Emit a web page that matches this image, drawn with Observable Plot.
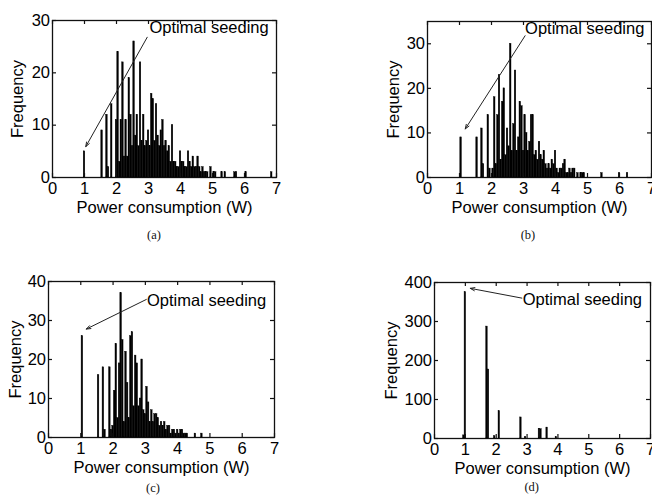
<!DOCTYPE html>
<html><head><meta charset="utf-8">
<script src="https://cdn.jsdelivr.net/npm/d3@7"></script>
<script src="https://cdn.jsdelivr.net/npm/@observablehq/plot@0.6"></script>
<style>
html,body{margin:0;background:#fff;overflow:hidden;}
#root{position:relative;width:652px;height:504px;}
.panel{position:absolute;}
.panel svg{max-width:none !important;display:block;}
.cap{position:absolute;font-family:"Liberation Serif","Times New Roman",serif;font-size:12.5px;color:#111;transform:translate(-50%,-50%);white-space:nowrap;}
</style></head><body><div id="root"></div>
<script>
// ---------- data ----------
const xDomain = [0, 7];
const xTicks = [0, 1, 2, 3, 4, 5, 6, 7];
const binWidth = 0.05;

// (a)
const powerA = [1.00,1.55,1.70,1.75,1.85,2.00,2.05,2.10,2.15,2.20,2.25,2.30,2.35,2.40,2.45,2.50,2.55,2.60,2.65,2.70,2.75,2.80,2.85,2.90,2.95,3.00,3.05,3.10,3.15,3.20,3.25,3.30,3.35,3.40,3.45,3.50,3.55,3.60,3.65,3.70,3.75,3.80,3.85,3.90,3.95,4.00,4.05,4.10,4.15,4.20,4.25,4.30,4.35,4.40,4.45,4.50,4.55,4.60,4.65,4.70,4.75,4.80,4.85,4.95,5.05,5.10,5.30,5.40,5.70,5.75,6.05,6.85];
const countA = [5,9,12,2,14,11,24,3,11,22,4,11,4,19,12,6,26,8,12,6,22,7,12,6,7,9,6,16,15,7,14,8,6,9,11,6,7,5,6,3,10,3,3,2,2,5,3,3,2,2,5,3,2,4,2,2,4,2,1,2,1,1,1,2,1,1,1,1,1,1,1,1];
const yDomainA = [0, 30];
const yTicksA = [0, 10, 20, 30];
const labelA = [3.03, 28.7];
const arrowA = [2.96, 26.8, 1.04, 5.9];

// (b)
const powerB = [1.05,1.55,1.70,1.75,1.90,1.95,2.05,2.10,2.15,2.20,2.25,2.30,2.35,2.40,2.45,2.50,2.55,2.60,2.65,2.70,2.75,2.80,2.85,2.90,2.95,3.00,3.05,3.10,3.15,3.20,3.25,3.30,3.35,3.40,3.45,3.50,3.55,3.60,3.65,3.70,3.75,3.80,3.85,3.90,3.95,4.00,4.05,4.10,4.15,4.20,4.25,4.30,4.35,4.40,4.45,4.50,4.55,4.60,4.70,4.80,4.85,4.90,5.45,6.00,6.25];
const countB = [9,9,11,3,14,2,2,18,3,14,23,4,17,20,5,11,7,30,6,12,24,6,9,17,16,6,14,10,6,8,14,14,5,6,4,8,5,4,6,3,2,3,2,4,3,6,2,1,2,2,3,4,1,1,2,1,2,2,1,1,1,1,1,1,1];
const yDomainB = [0, 35];
const yTicksB = [0, 10, 20, 30];
const labelB = [3.05, 33.3];
const arrowB = [3.05, 31.8, 1.18, 10.9];

// (c)
const powerC = [1.05,1.55,1.70,1.75,1.90,1.95,2.00,2.05,2.10,2.15,2.20,2.25,2.30,2.35,2.40,2.45,2.50,2.55,2.60,2.65,2.70,2.75,2.80,2.85,2.90,2.95,3.00,3.05,3.10,3.15,3.20,3.25,3.30,3.35,3.40,3.45,3.50,3.55,3.60,3.65,3.70,3.75,3.80,3.85,3.90,3.95,4.00,4.05,4.10,4.15,4.20,4.25,4.30,4.55,4.75];
const countC = [26,16,18,2,18,2,3,12,24,5,19,37,25,4,22,14,5,26,27,8,21,19,8,10,20,7,6,13,9,4,7,4,6,6,5,3,4,3,4,2,3,3,1,2,2,1,2,1,2,2,1,1,1,1,1];
const yDomainC = [0, 40];
const yTicksC = [0, 10, 20, 30, 40];
const labelC = [3.05, 35.2];
const arrowC = [3.03, 35.4, 1.17, 27.8];

// (d)
const powerD = [0.95,1.00,1.70,1.75,1.95,2.10,2.80,2.95,3.40,3.45,3.65,3.95];
const countD = [8,375,287,177,6,70,54,4,25,24,28,4];
const yDomainD = [0, 400];
const yTicksD = [0, 100, 200, 300, 400];
const labelD = [2.86, 356];
const arrowD = [2.83, 360, 1.16, 385];

const captions = ["(a)", "(b)", "(c)", "(d)"];

// ---------- layout ----------
const FONT = '"Liberation Sans", Arial, Helvetica, sans-serif';
const ML = 60, MR = 15, MT = 12, MB = 50;
const TICK = 4;   // inward tick length, px
const panels = [
  {power: powerA, count: countA, yDomain: yDomainA, yTicks: yTicksA, label: labelA, arrow: arrowA,
   L: 52, R: 276, T: 20, B: 177, yLab: 34.7, cap: [154, 235]},
  {power: powerB, count: countB, yDomain: yDomainB, yTicks: yTicksB, label: labelB, arrow: arrowB,
   L: 427, R: 651, T: 21, B: 177, yLab: 33.7, cap: [528, 235]},
  {power: powerC, count: countC, yDomain: yDomainC, yTicks: yTicksC, label: labelC, arrow: arrowC,
   L: 48, R: 274, T: 281, B: 437, yLab: 33, cap: [153, 488]},
  {power: powerD, count: countD, yDomain: yDomainD, yTicks: yTicksD, label: labelD, arrow: arrowD,
   L: 434, R: 650, T: 282, B: 438, yLab: 42.3, cap: [531.7, 487]}
];

const root = document.getElementById("root");
panels.forEach((cfg, k) => {
  const bins = cfg.power.map((p, i) => ({p, n: cfg.count[i]}));
  const fw = cfg.R - cfg.L, fh = cfg.B - cfg.T;
  const [xa, xb] = xDomain, [ya, yb] = cfg.yDomain;
  const tx = (xb - xa) * TICK / fw, ty = (yb - ya) * TICK / fh;  // tick length in data units
  const plot = Plot.plot({
    width: fw + ML + MR,
    height: fh + MT + MB,
    marginLeft: ML, marginRight: MR, marginTop: MT, marginBottom: MB,
    x: {domain: xDomain},
    y: {domain: cfg.yDomain},
    style: {fontFamily: FONT, fontSize: "16.5px", color: "#000", background: "transparent", overflow: "visible", maxWidth: "none"},
    marks: [
      Plot.frame({stroke: "#111", strokeWidth: 1.3}),
      Plot.rectY(bins, {x1: d => d.p - binWidth / 2, x2: d => d.p + binWidth / 2, y: "n", fill: "#000", stroke: "#000", strokeWidth: 0.4}),
      Plot.ruleX(xTicks, {x: d => d, y1: ya, y2: ya + ty, stroke: "#111", strokeWidth: 1.2}),
      Plot.ruleX(xTicks, {x: d => d, y1: yb - ty, y2: yb, stroke: "#111", strokeWidth: 1.2}),
      Plot.ruleY(cfg.yTicks, {y: d => d, x1: xa, x2: xa + tx, stroke: "#111", strokeWidth: 1.2}),
      Plot.ruleY(cfg.yTicks, {y: d => d, x1: xb - tx, x2: xb, stroke: "#111", strokeWidth: 1.2}),
      Plot.axisX({ticks: xTicks, anchor: "bottom", tickSize: 0, tickPadding: 4.3, tickFormat: d => String(d), label: null}),
      Plot.axisY({ticks: cfg.yTicks, anchor: "left", tickSize: 0, tickPadding: 2.5, tickFormat: d => String(d), label: null}),
      Plot.text(["Frequency"], {text: d => d, frameAnchor: "left", dx: -cfg.yLab, rotate: -90, textAnchor: "middle", lineAnchor: "middle"}),
      Plot.text(["Power consumption (W)"], {text: d => d, frameAnchor: "bottom", dy: 30, textAnchor: "middle", lineAnchor: "middle"}),
      Plot.arrow([cfg.arrow], {x1: d => d[0], y1: d => d[1], x2: d => d[2], y2: d => d[3], stroke: "#222", strokeWidth: 1, headLength: 7, headAngle: 40}),
      Plot.text([cfg.label], {x: d => d[0], y: d => d[1], text: () => "Optimal seeding", textAnchor: "start", lineAnchor: "middle"})
    ]
  });
  const div = document.createElement("div");
  div.className = "panel";
  div.style.left = (cfg.L - ML) + "px";
  div.style.top = (cfg.T - MT) + "px";
  div.appendChild(plot);
  root.appendChild(div);

  const cap = document.createElement("div");
  cap.className = "cap";
  cap.style.left = cfg.cap[0] + "px";
  cap.style.top = cfg.cap[1] + "px";
  cap.textContent = captions[k];
  root.appendChild(cap);
});
</script></body></html>
